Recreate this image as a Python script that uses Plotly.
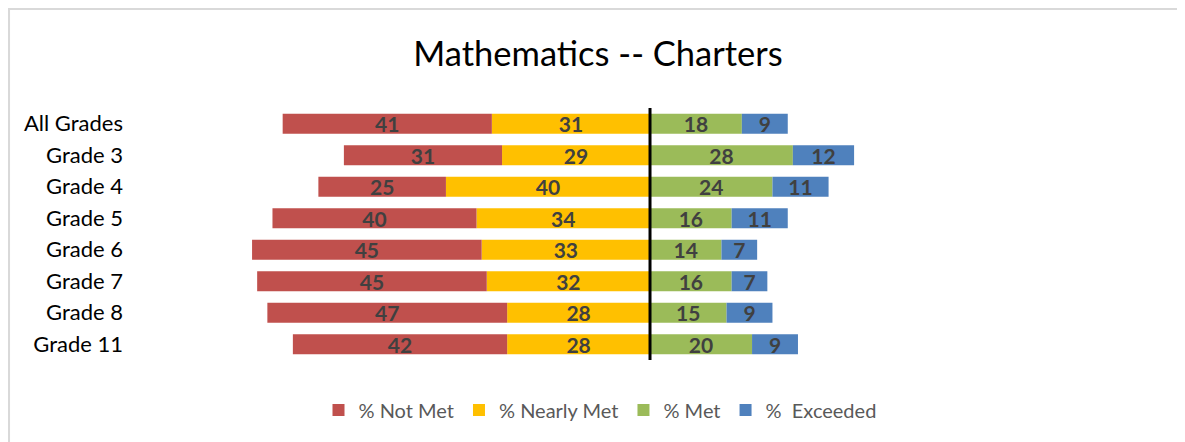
import plotly.graph_objects as go

grades = ["All Grades", "Grade 3", "Grade 4", "Grade 5", "Grade 6", "Grade 7", "Grade 8", "Grade 11"]
not_met = [41, 31, 25, 40, 45, 45, 47, 42]
nearly_met = [31, 29, 40, 34, 33, 32, 28, 28]
met = [18, 28, 24, 16, 14, 16, 15, 20]
exceeded = [9, 12, 11, 11, 7, 7, 9, 9]

FONT = "Lato"
LABEL_COLOR = "#404040"

# page body adds an 8px offset, so the figure is 8px smaller than the window
W, H = 1177, 434

# the two "below standard" series go left of zero, nearest-to-zero first
series = [
    ("% Nearly Met", nearly_met, "#FFC000", -1, 2),
    ("% Not Met", not_met, "#C0504D", -1, 1),
    ("% Met", met, "#9BBB59", 1, 3),
    ("%  Exceeded", exceeded, "#4F81BD", 1, 4),
]

fig = go.Figure()
for name, vals, color, sign, rank in series:
    fig.add_trace(go.Bar(
        name=name,
        y=grades,
        x=[sign * v for v in vals],
        orientation="h",
        marker=dict(color=color, line=dict(width=0)),
        text=[str(v) for v in vals],
        textposition="inside",
        insidetextanchor="middle",
        textangle=0,
        constraintext="none",
        insidetextfont=dict(family=FONT, size=21, color=LABEL_COLOR, weight="bold"),
        legendrank=rank,
    ))

fig.update_layout(
    width=W,
    height=H,
    barmode="relative",
    bargap=0.36,
    paper_bgcolor="white",
    plot_bgcolor="white",
    margin=dict(l=116, r=85, t=100, b=82),
    title=dict(
        text="Mathematics -- Charters",
        x=590 / W, xanchor="center", xref="container",
        y=1 - 46 / H, yanchor="middle", yref="container",
        font=dict(family=FONT, size=34.5, color="#000000"),
    ),
    xaxis=dict(range=[-103.1, 88.2], visible=False, fixedrange=True),
    yaxis=dict(
        autorange="reversed",
        showgrid=False, zeroline=False, showline=False, ticks="",
        tickfont=dict(family=FONT, size=22, color="#000000"),
    ),
    legend=dict(
        orientation="h",
        xref="container", x=592 / W, xanchor="center",
        yref="container", y=1 - 402 / H, yanchor="middle",
        font=dict(family=FONT, size=20, color="#595959"),
        traceorder="normal",
    ),
    shapes=[
        dict(type="line", xref="x", yref="paper", x0=0, x1=0, y0=0, y1=1,
             line=dict(color="black", width=3), layer="above"),
        dict(type="rect", xref="paper", yref="paper",
             x0=-0.1178, x1=1.2, y0=-0.5, y1=1.393,
             line=dict(color="#D9D9D9", width=2), fillcolor="rgba(0,0,0,0)", layer="below"),
    ],
)

fig.write_html("out.html")
